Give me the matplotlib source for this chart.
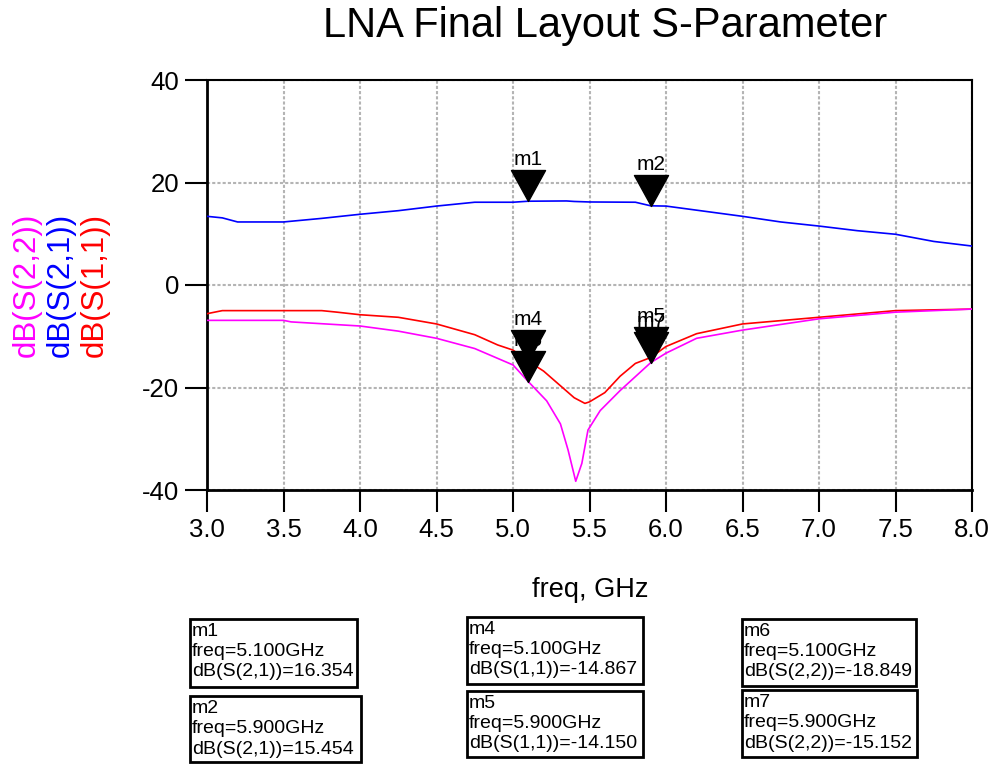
import numpy as np
import matplotlib
matplotlib.use("Agg")
import matplotlib.pyplot as plt
from matplotlib.path import Path
from matplotlib.patches import Rectangle

plt.rcParams['font.family'] = ['Liberation Sans', 'DejaVu Sans']
plt.rcParams['axes.unicode_minus'] = False

# traces (freq in GHz, value in dB)
f_s21 = [3.0, 3.1, 3.2, 3.5, 3.75, 4.0, 4.25, 4.5, 4.75, 5.0, 5.1, 5.35, 5.4, 5.5, 5.8, 5.9,
         6.0, 6.25, 6.5, 6.75, 7.0, 7.25, 7.5, 7.75, 8.0]
s21 = [13.4, 13.1, 12.3, 12.3, 13.0, 13.8, 14.5, 15.4, 16.15, 16.15, 16.35, 16.4, 16.3, 16.2,
       16.15, 15.45, 15.4, 14.4, 13.4, 12.3, 11.5, 10.6, 9.9, 8.5, 7.6]

f_s11 = [3.0, 3.1, 3.5, 3.75, 3.85, 4.0, 4.25, 4.5, 4.75, 4.9, 5.0, 5.1, 5.2, 5.3, 5.4, 5.47,
         5.5, 5.6, 5.7, 5.8, 5.9, 6.0, 6.2, 6.5, 7.0, 7.5, 8.0]
s11 = [-5.6, -5.0, -5.0, -5.0, -5.3, -5.8, -6.3, -7.6, -9.7, -11.7, -12.7, -14.867, -16.8, -19.4,
       -22.0, -23.1, -22.8, -21.0, -17.8, -15.3, -14.15, -12.0, -9.5, -7.6, -6.3, -5.0, -4.7]

f_s22 = [3.0, 3.5, 3.55, 4.0, 4.25, 4.5, 4.75, 5.0, 5.1, 5.22, 5.31, 5.36, 5.41, 5.45, 5.49,
         5.57, 5.7, 5.9, 6.0, 6.2, 6.5, 7.0, 7.5, 8.0]
s22 = [-6.9, -6.9, -7.2, -8.0, -9.0, -10.4, -12.4, -15.6, -18.849, -22.6, -27.1, -32.2, -38.3,
       -34.8, -28.3, -24.5, -20.6, -15.152, -13.3, -10.4, -8.8, -6.6, -5.3, -4.7]

# markers: name, freq, value, trace label
marker_names = ['m7', 'm6', 'm5', 'm4', 'm2', 'm1']
marker_freq = [5.9, 5.1, 5.9, 5.1, 5.9, 5.1]
marker_vals = [-15.152, -18.849, -14.150, -14.867, 15.454, 16.354]
marker_trace = ['dB(S(2,2))', 'dB(S(2,2))', 'dB(S(1,1))', 'dB(S(1,1))', 'dB(S(2,1))', 'dB(S(2,1))']

W, H = 998, 766
fig = plt.figure(figsize=(W / 100, H / 100), dpi=100)
ax = fig.add_axes([207 / W, 1 - 490 / H, (972 - 207) / W, (490 - 80) / H])

ax.plot(f_s11, s11, color='red', lw=1.2, zorder=3)
ax.plot(f_s21, s21, color='blue', lw=1.2, zorder=3)
ax.plot(f_s22, s22, color='magenta', lw=1.2, zorder=3)

ax.set_xlim(3, 8)
ax.set_ylim(-40, 40)
ax.set_xticks(np.arange(3, 8.01, 0.5))
ax.set_xticklabels([f"{v:.1f}" for v in np.arange(3, 8.01, 0.5)])
ax.set_yticks([-40, -20, 0, 20, 40])
ax.grid(True, color='#b4b4b4', ls=(0, (1.5, 1)), lw=1.5)
ax.tick_params(direction='out', length=16, width=1.5, labelsize=18.5, pad=4)

for s in ['left', 'bottom']:
    ax.spines[s].set_linewidth(2)
for s in ['top', 'right']:
    ax.spines[s].set_linewidth(1.5)

# downward triangle with the tip on the data point
tri = Path([(-0.55, 1), (0.55, 1), (0, 0), (-0.55, 1)],
           [Path.MOVETO, Path.LINETO, Path.LINETO, Path.CLOSEPOLY])
for i, name in enumerate(marker_names):
    ax.plot([marker_freq[i]], [marker_vals[i]], marker=tri, ms=44.6, color='black',
            ls='none', zorder=5 + 2 * i, clip_on=False)
    ax.annotate(name, (marker_freq[i], marker_vals[i]), xytext=(0, 23),
                textcoords='offset points', ha='center', va='bottom', fontsize=15,
                zorder=6 + 2 * i)

fig.text(605 / W, 1 - 26 / H, 'LNA Final Layout S-Parameter', ha='center', va='center',
         fontsize=30)
fig.text(590 / W, 1 - 590 / H, 'freq, GHz', ha='center', va='center', fontsize=19.5)

ylabels = ['dB(S(2,2))', 'dB(S(2,1))', 'dB(S(1,1))']
ycolors = ['magenta', 'blue', 'red']
for xp, lab, c in zip([27, 61, 95], ylabels, ycolors):
    fig.text(xp / W, 1 - 285 / H, lab, rotation=90, ha='center', va='center',
             fontsize=22.5, color=c)

# marker readout boxes (left, top, right, bottom in pixels)
boxes = {'m1': (190, 619, 357, 687), 'm2': (190, 696, 361, 762),
         'm4': (467, 617, 643, 684), 'm5': (467, 691, 643, 757),
         'm6': (742, 619, 916, 686), 'm7': (742, 690, 917, 757)}
for i, name in enumerate(marker_names):
    l, t, r, b = boxes[name]
    fig.add_artist(Rectangle((l / W, 1 - b / H), (r - l) / W, (b - t) / H,
                             transform=fig.transFigure, fill=False, ec='black', lw=2))
    txt = f"{name}\nfreq={marker_freq[i]:.3f}GHz\n{marker_trace[i]}={marker_vals[i]:.3f}"
    fig.text((l + 2) / W, 1 - (t + 4) / H, txt, ha='left', va='top', fontsize=14,
             linespacing=1.25)

fig.savefig('out.png', dpi=100)
